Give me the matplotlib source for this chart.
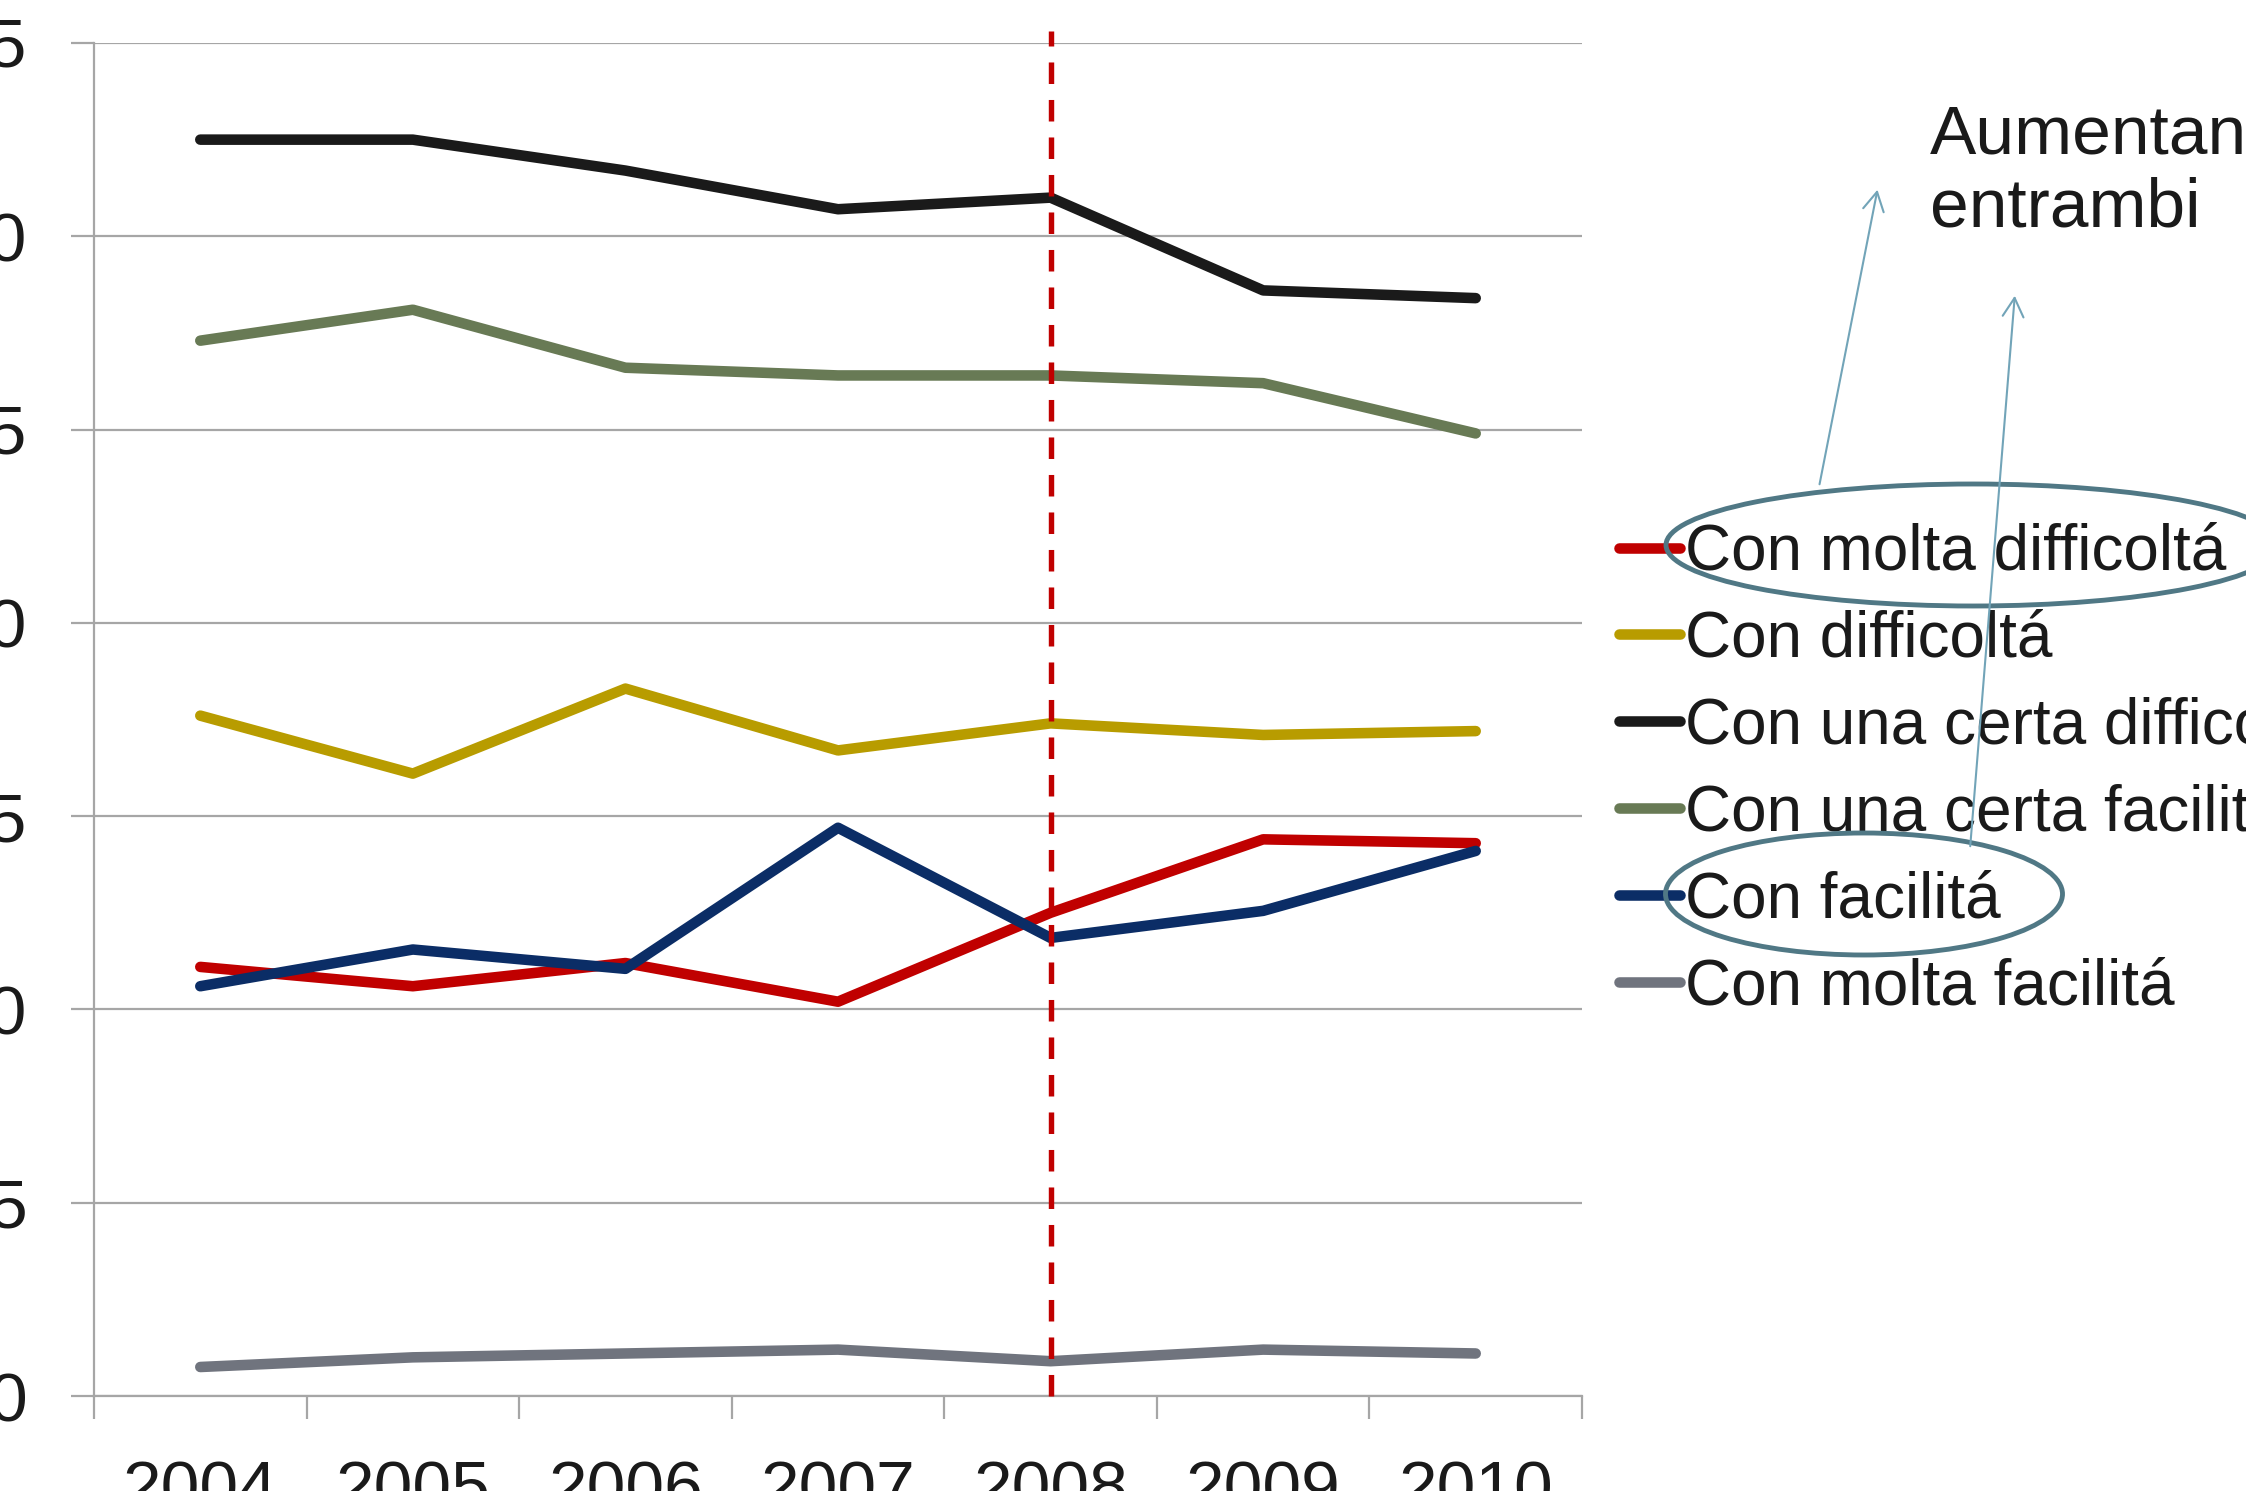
import matplotlib.pyplot as plt
from matplotlib.patches import Ellipse, FancyArrowPatch

plt.rcParams['font.family'] = ['Liberation Sans', 'DejaVu Sans']

anni = ["2004", "2005", "2006", "2007", "2008", "2009", "2010"]
molta_difficolta = [11.1, 10.6, 11.2, 10.2, 12.5, 14.4, 14.3]
difficolta = [17.6, 16.1, 18.3, 16.7, 17.4, 17.1, 17.2]
certa_difficolta = [32.5, 32.5, 31.7, 30.7, 31.0, 28.6, 28.4]
certa_facilita = [27.3, 28.1, 26.6, 26.4, 26.4, 26.2, 24.9]
facilita = [10.6, 11.55, 11.05, 14.7, 11.85, 12.55, 14.1]
molta_facilita = [0.75, 1.0, 1.1, 1.2, 0.9, 1.2, 1.1]

serie = [molta_difficolta, difficolta, certa_difficolta,
         certa_facilita, facilita, molta_facilita]
etichette = ["Con molta difficoltá", "Con difficoltá", "Con una certa difficoltá",
             "Con una certa facilitá", "Con facilitá", "Con molta facilitá"]
colori = ["#c00000", "#b89c00", "#1a1a1a", "#687a55", "#0b2d66", "#70747e"]
y_ticks = [0, 5, 10, 15, 20, 25, 30, 35]
anno_crisi = "2008"
nota = "Aumentano\nentrambi"

W, H = 2246, 1491
fig = plt.figure(figsize=(W / 100, H / 100), dpi=100)
ax = fig.add_axes([94 / W, 1 - 1396 / H, (1582 - 94) / W, (1396 - 43) / H])

x = list(range(len(anni)))
for vals, lab, col in zip(serie, etichette, colori):
    ax.plot(x, vals, color=col, lw=7.6, label=lab,
            solid_capstyle='round', solid_joinstyle='round', zorder=3)

# linea tratteggiata 2008
ax.axvline(anni.index(anno_crisi), ymin=0, ymax=35.3 / 35, color="#c00000",
           lw=3.9, linestyle=(0, (15.5 / 3.9, 11.5 / 3.9)), clip_on=False, zorder=4)

grigio = "#a6a6a6"
ax.set_xlim(-0.5, len(anni) - 0.5)
ax.set_ylim(0, 35)
ax.set_yticks(y_ticks)
ax.set_xticks(x)
ax.set_xticklabels(anni)
ax.set_xticks([i - 0.5 for i in range(len(anni) + 1)], minor=True)
ax.tick_params(axis='x', which='major', length=0, pad=46, labelsize=50, labelcolor="#1a1a1a")
ax.tick_params(axis='x', which='minor', length=16.5, width=1.6, color=grigio)
ax.tick_params(axis='y', length=16.5, width=1.6, color=grigio, pad=32,
               labelsize=50, labelcolor="#1a1a1a")
ax.yaxis.grid(True, color=grigio, lw=1.6)
ax.set_axisbelow(True)
for s in ['top', 'right']:
    ax.spines[s].set_visible(False)
for s in ['left', 'bottom']:
    ax.spines[s].set_color(grigio)
    ax.spines[s].set_linewidth(1.6)

leg = ax.legend(loc='center left', bbox_to_anchor=(1619 / W, 1 - 770 / H),
                bbox_transform=fig.transFigure, frameon=False, fontsize=46,
                handlelength=0.95, handletextpad=0.08, labelspacing=0.42,
                borderpad=0, borderaxespad=0)
for t in leg.get_texts():
    t.set_color("#1a1a1a")

fig.text(1930 / W, 1 - 103 / H, nota, fontsize=50, color="#1a1a1a",
         va='top', ha='left', linespacing=1.19)

def fp(px, py):
    return (px / W, 1 - py / H)

for (cx, cy, w, h) in [(1973, 545, 614, 122), (1864, 894, 397, 122)]:
    e = Ellipse(fp(cx, cy), w / W, h / H, transform=fig.transFigure,
                fill=False, edgecolor="#507885", lw=3.5, zorder=10)
    fig.add_artist(e)

for (x0, y0, x1, y1) in [(1819, 487, 1878, 187), (1970, 849, 2015, 293)]:
    a = FancyArrowPatch(fp(x0, y0), fp(x1, y1), transform=fig.transFigure,
                        arrowstyle='->,head_length=0.45,head_width=0.25',
                        mutation_scale=30, color="#72a4b8", lw=1.5, zorder=11)
    fig.add_artist(a)

fig.savefig("out.png", dpi=100)
